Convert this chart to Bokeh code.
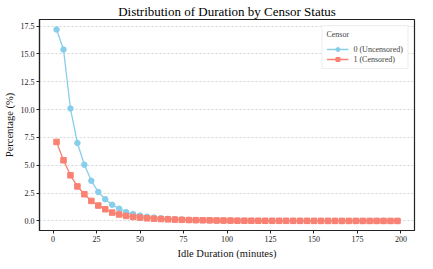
from bokeh.plotting import figure
from bokeh.embed import file_html
from bokeh.resources import INLINE
from bokeh.models import FixedTicker, NumeralTickFormatter, Range1d

duration = [2 + 4 * i for i in range(50)]
uncensored = [17.2, 15.4, 10.1, 7.0, 5.05, 3.6, 2.6, 1.95, 1.45, 1.1,
              0.8, 0.62, 0.48, 0.38, 0.3, 0.24, 0.19, 0.15, 0.12, 0.09,
              0.07, 0.06, 0.05, 0.04, 0.03, 0.025, 0.02, 0.017, 0.014, 0.012,
              0.01, 0.008, 0.007, 0.006, 0.005, 0.004, 0.003, 0.003, 0.002, 0.002,
              0.002, 0.001, 0.001, 0.001, 0.001, 0.001, 0.0, 0.0, 0.0, 0.0]
censored = [7.1, 5.45, 4.1, 3.1, 2.4, 1.8, 1.38, 1.05, 0.75, 0.58,
            0.45, 0.36, 0.3, 0.24, 0.2, 0.17, 0.14, 0.12, 0.1, 0.08,
            0.07, 0.06, 0.05, 0.04, 0.035, 0.03, 0.025, 0.02, 0.018, 0.015,
            0.012, 0.01, 0.009, 0.008, 0.007, 0.006, 0.005, 0.004, 0.004, 0.003,
            0.003, 0.002, 0.002, 0.002, 0.001, 0.001, 0.001, 0.001, 0.001, 0.001]
x_ticks = [0, 25, 50, 75, 100, 125, 150, 175, 200]
y_ticks = [0.0, 2.5, 5.0, 7.5, 10.0, 12.5, 15.0, 17.5]

FONT = "Liberation Serif"
BLUE = "#87CEEB"
RED = "#FA8072"

p = figure(width=417, height=261, output_backend="svg", toolbar_location=None,
           x_range=Range1d(-7.8, 207.8), y_range=Range1d(-0.86, 18.1),
           title="Distribution of Duration by Censor Status")
p.min_border_left = 0
p.min_border_right = 3
p.min_border_top = 0
p.min_border_bottom = 0

p.title.text_font = FONT
p.title.text_font_size = "13px"
p.title.text_font_style = "normal"
p.title.align = "center"
p.title.text_color = "#000000"
p.title.standoff = 2
p.title.offset = 0

p.line(duration, uncensored, color=BLUE, line_width=1.3, legend_label="0 (Uncensored)")
p.scatter(duration, uncensored, marker="circle", size=5.5, color=BLUE,
          legend_label="0 (Uncensored)")
p.line(duration, censored, color=RED, line_width=1.3, legend_label="1 (Censored)")
p.scatter(duration, censored, marker="square", size=5.5, color=RED,
          legend_label="1 (Censored)")

for ax in (p.xaxis, p.yaxis):
    ax.axis_label_text_font = FONT
    ax.axis_label_text_font_style = "normal"
    ax.axis_label_text_font_size = "10.5px"
    ax.axis_label_text_color = "#111111"
    ax.major_label_text_font = FONT
    ax.major_label_text_font_size = "8px"
    ax.major_label_text_color = "#222222"
    ax.minor_tick_line_color = None
    ax.axis_line_color = "#222222"
    ax.axis_line_width = 1.2
    ax.major_tick_line_color = "#222222"
    ax.major_tick_out = 3
    ax.major_tick_in = 0
    ax.major_label_standoff = 2
    ax.axis_label_standoff = 3

p.xaxis.axis_label = "Idle Duration (minutes)"
p.yaxis.axis_label = "Percentage (%)"
p.xaxis.ticker = FixedTicker(ticks=x_ticks)
p.yaxis.ticker = FixedTicker(ticks=y_ticks)
p.yaxis.formatter = NumeralTickFormatter(format="0.0")

p.xgrid.grid_line_color = None
p.ygrid.grid_line_color = "#cccccc"
p.ygrid.grid_line_dash = "2 2"
p.ygrid.grid_line_width = 0.8

p.outline_line_color = "#222222"
p.outline_line_width = 1.2
p.outline_line_alpha = 1.0

p.legend.location = "top_right"
p.legend.title = "Censor"
p.legend.title_text_font = FONT
p.legend.title_text_font_size = "8px"
p.legend.title_text_font_style = "normal"
p.legend.label_text_font = FONT
p.legend.label_text_font_size = "8px"
p.legend.border_line_color = "#dddddd"
p.legend.background_fill_alpha = 0.85
p.legend.glyph_height = 10
p.legend.glyph_width = 22
p.legend.label_height = 10
p.legend.spacing = 0
p.legend.padding = 4
p.legend.margin = 6

open("out.html", "w").write(file_html(p, INLINE))
